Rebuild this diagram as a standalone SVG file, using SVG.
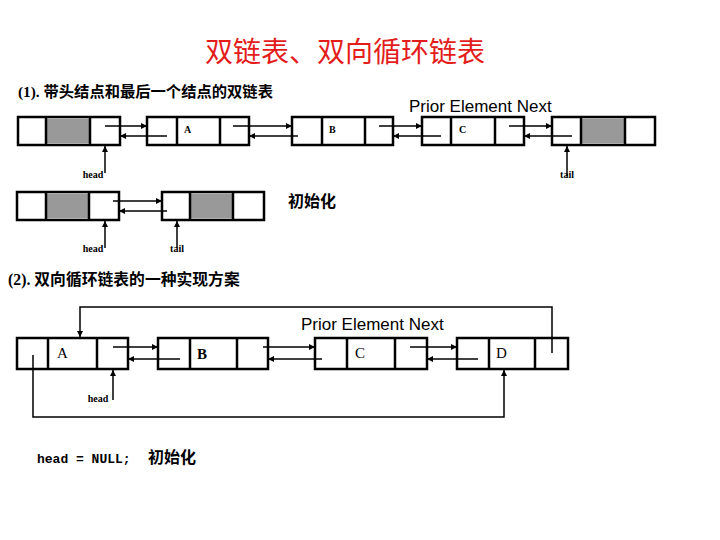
<svg xmlns="http://www.w3.org/2000/svg" width="720" height="540" viewBox="0 0 720 540">
<defs>
<marker id="ah" viewBox="0 0 8 8" refX="8" refY="4" markerWidth="6" markerHeight="6" markerUnits="userSpaceOnUse" orient="auto">
<path d="M0,0 L8,4 L0,8 z" fill="#000"/>
</marker>
<style>
.box{fill:#fff;stroke:#000;stroke-width:2.5}
.gray{fill:#999}
.div{stroke:#000;stroke-width:2.5}
.ln{stroke:#000;stroke-width:1.5;fill:none}
.ar{stroke:#000;stroke-width:1.5;fill:none;marker-end:url(#ah)}
.cn{font-family:"Liberation Serif","Noto Sans CJK SC",serif;font-weight:bold;fill:#000}
.lbl{font-family:"Liberation Serif",serif;font-weight:bold;font-size:10px;fill:#000}
.el{font-family:"Liberation Serif",serif;font-size:15px;fill:#000}
.pen{font-family:"Liberation Sans",Arial,sans-serif;font-size:17px;fill:#000}
</style>
</defs>
<rect width="720" height="540" fill="#fff"/>
<text x="345" y="62" text-anchor="middle" font-family="Noto Sans CJK SC,sans-serif" font-size="28" fill="#e31c1c">双链表、双向循环链表</text>
<text class="cn" x="18" y="97" font-size="15.3">(1). 带头结点和最后一个结点的双链表</text>
<text class="pen" x="409" y="112">Prior Element Next</text>

<g id="top-n1"><rect class="box" x="18" y="117" width="102" height="28"/><rect class="gray" x="46" y="118.5" width="44" height="25"/><line class="div" x1="46" y1="117" x2="46" y2="145"/><line class="div" x1="90" y1="117" x2="90" y2="145"/></g>
<g id="top-A"><rect class="box" x="147" y="117" width="102" height="28"/><line class="div" x1="177" y1="117" x2="177" y2="145"/><line class="div" x1="220" y1="117" x2="220" y2="145"/><text class="lbl" x="184" y="133" font-size="12">A</text></g>
<g id="top-B"><rect class="box" x="292" y="117" width="101" height="28"/><line class="div" x1="322" y1="117" x2="322" y2="145"/><line class="div" x1="365" y1="117" x2="365" y2="145"/><text class="lbl" x="329" y="133" font-size="12">B</text></g>
<g id="top-C"><rect class="box" x="422" y="117" width="102" height="28"/><line class="div" x1="451" y1="117" x2="451" y2="145"/><line class="div" x1="495" y1="117" x2="495" y2="145"/><text class="lbl" x="459" y="133" font-size="12">C</text></g>
<g id="top-n5"><rect class="box" x="552" y="117" width="103" height="28"/><rect class="gray" x="581" y="118.5" width="44" height="25"/><line class="div" x1="581" y1="117" x2="581" y2="145"/><line class="div" x1="625" y1="117" x2="625" y2="145"/></g>
<text class="lbl" x="93" y="178" text-anchor="middle">head</text>
<text class="lbl" x="567" y="178" text-anchor="middle">tail</text>

<g id="init-n1"><rect class="box" x="17" y="192" width="102" height="28"/><rect class="gray" x="46" y="193.5" width="43" height="25"/><line class="div" x1="46" y1="192" x2="46" y2="220"/><line class="div" x1="89" y1="192" x2="89" y2="220"/></g>
<g id="init-n2"><rect class="box" x="162" y="192" width="102" height="28"/><rect class="gray" x="190" y="193.5" width="43" height="25"/><line class="div" x1="190" y1="192" x2="190" y2="220"/><line class="div" x1="233" y1="192" x2="233" y2="220"/></g>
<text class="lbl" x="93" y="252" text-anchor="middle">head</text>
<text class="lbl" x="177" y="252" text-anchor="middle">tail</text>
<text class="cn" x="288" y="207" font-size="16">初始化</text>

<text class="cn" x="8" y="285" font-size="15.8">(2). 双向循环链表的一种实现方案</text>
<text class="pen" x="301" y="330">Prior Element Next</text>

<g id="cir-A"><rect class="box" x="17" y="338" width="111" height="31"/><line class="div" x1="48" y1="338" x2="48" y2="369"/><line class="div" x1="97" y1="338" x2="97" y2="369"/><text class="el" x="57" y="358">A</text></g>
<g id="cir-B"><rect class="box" x="158" y="338" width="110" height="31"/><line class="div" x1="190" y1="338" x2="190" y2="369"/><line class="div" x1="237" y1="338" x2="237" y2="369"/><text class="el" x="197" y="359" font-weight="bold" font-size="17">B</text></g>
<g id="cir-C"><rect class="box" x="315" y="338" width="112" height="31"/><line class="div" x1="347" y1="338" x2="347" y2="369"/><line class="div" x1="395" y1="338" x2="395" y2="369"/><text class="el" x="355" y="358">C</text></g>
<g id="cir-D"><rect class="box" x="457" y="338" width="111" height="31"/><line class="div" x1="489" y1="338" x2="489" y2="369"/><line class="div" x1="535" y1="338" x2="535" y2="369"/><text class="el" x="496" y="358">D</text></g>
<text class="lbl" x="98" y="402" text-anchor="middle">head</text>

<text x="37" y="463" font-family="Liberation Mono,monospace" font-weight="bold" font-size="13" fill="#000">head = NULL;</text>
<text class="cn" x="148" y="463" font-size="16">初始化</text>

<g id="connectors">
<line class="ar" x1="105" y1="126" x2="147" y2="126"/>
<line class="ar" x1="167" y1="136" x2="120" y2="136"/>
<line class="ar" x1="233" y1="126" x2="292" y2="126"/>
<line class="ar" x1="298" y1="136" x2="249" y2="136"/>
<line class="ar" x1="379" y1="126" x2="422" y2="126"/>
<line class="ar" x1="441" y1="136" x2="393" y2="136"/>
<line class="ar" x1="509" y1="126" x2="552" y2="126"/>
<line class="ar" x1="572" y1="136" x2="524" y2="136"/>
<line class="ar" x1="105" y1="173" x2="105" y2="146"/>
<line class="ar" x1="567" y1="176" x2="567" y2="146"/>

<line class="ar" x1="113" y1="201" x2="162" y2="201"/>
<line class="ar" x1="167" y1="211" x2="119" y2="211"/>
<line class="ar" x1="105" y1="248" x2="105" y2="221"/>
<line class="ar" x1="177" y1="248" x2="177" y2="221"/>

<line class="ar" x1="113" y1="347" x2="158" y2="347"/>
<line class="ar" x1="180" y1="359" x2="128" y2="359"/>
<line class="ar" x1="263" y1="347" x2="315" y2="347"/>
<line class="ar" x1="322" y1="359" x2="268" y2="359"/>
<line class="ar" x1="410" y1="347" x2="457" y2="347"/>
<line class="ar" x1="478" y1="359" x2="427" y2="359"/>
<line class="ar" x1="113" y1="400" x2="113" y2="370"/>
<polyline class="ar" points="552,353 552,307 80,307 80,337"/>
<polyline class="ar" points="33,355 33,417 504,417 504,370"/>
</g>
</svg>
